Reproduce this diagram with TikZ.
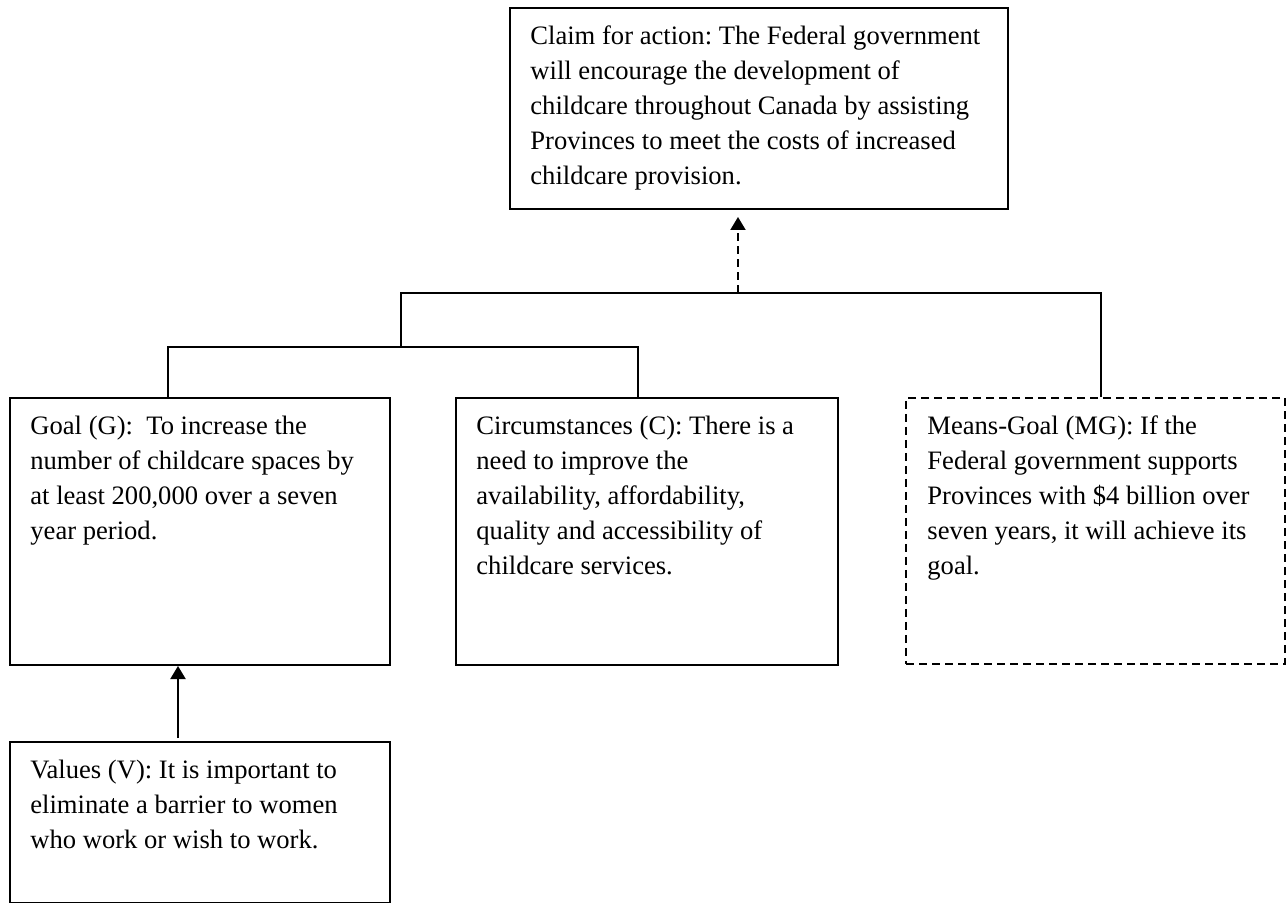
\documentclass[tikz,border=0pt]{standalone}
\usepackage{fontspec}
\setmainfont{Liberation Serif}
\usetikzlibrary{arrows.meta,calc}
\frenchspacing
\begin{document}
\begin{tikzpicture}[x=0.5pt,y=-0.5pt,
  boxframe/.style={draw,line width=1pt,inner sep=0pt,anchor=north west},
  dashframe/.style={boxframe,dash pattern=on 4pt off 2.5pt},
  boxtext/.style={anchor=north west,inner sep=0pt,align=left,font=\fontsize{13.3}{17.5}\selectfont},
  conn/.style={line width=1pt},
  tip/.style={-{Triangle[width=7.5pt,length=6.5pt]}}]
\useasboundingbox (0,0) rectangle (1286,903);
% boxes
\node[boxframe,minimum width=249pt,minimum height=100.5pt] (claim) at (509,7) {};
\node[boxframe,minimum width=190pt,minimum height=133.5pt] (goal) at (9,397) {};
\node[boxframe,minimum width=191pt,minimum height=133.5pt] (circ) at (455,397) {};
\node[dashframe,minimum width=189.5pt,minimum height=133pt] (mg) at (905,397) {};
\node[boxframe,minimum width=190pt,minimum height=80.5pt] (values) at (9,741) {};
% texts
\node[boxtext] (claimT) at ([xshift=10.5pt,yshift=-9.25pt]claim.north west)
  {Claim for action: The Federal government\\will encourage the development of\\childcare throughout Canada by assisting\\Provinces to meet the costs of increased\\childcare provision.};
\node[boxtext] (goalT) at ([xshift=10.5pt,yshift=-9.25pt]goal.north west)
  {Goal (G):~ To increase the\\number of childcare spaces by\\at least 200,000 over a seven\\year period.};
\node[boxtext] (circT) at ([xshift=10.5pt,yshift=-9.25pt]circ.north west)
  {Circumstances (C): There is a\\need to improve the\\availability, affordability,\\quality and accessibility of\\childcare services.};
\node[boxtext] (mgT) at ([xshift=11pt,yshift=-9.25pt]mg.north west)
  {Means-Goal (MG): If the\\Federal government supports\\Provinces with \$4 billion over\\seven years, it will achieve its\\goal.};
\node[boxtext] (valuesT) at ([xshift=10.5pt,yshift=-9.25pt]values.north west)
  {Values (V): It is important to\\eliminate a barrier to women\\who work or wish to work.};
% connectors
\coordinate (top) at (738,293);
\coordinate (hl) at (401,293);
\coordinate (hr) at (1101,293);
\coordinate (ml) at (401,347);
\coordinate (gl) at (168,347);
\coordinate (cr) at (638,347);
\coordinate (vx) at (178,0);
\draw[conn,dash pattern=on 4pt off 2.5pt,tip,shorten >=3.5pt] (top) -- (top |- claim.south);
\draw[conn] (ml) -- (hl) -- (hr) -- (hr |- mg.north);
\draw[conn] (gl |- goal.north) -- (gl) -- (cr) -- (cr |- circ.north);
\draw[conn,tip,shorten <=1.5pt] (vx |- values.north) -- (vx |- goal.south);
\end{tikzpicture}
\end{document}
